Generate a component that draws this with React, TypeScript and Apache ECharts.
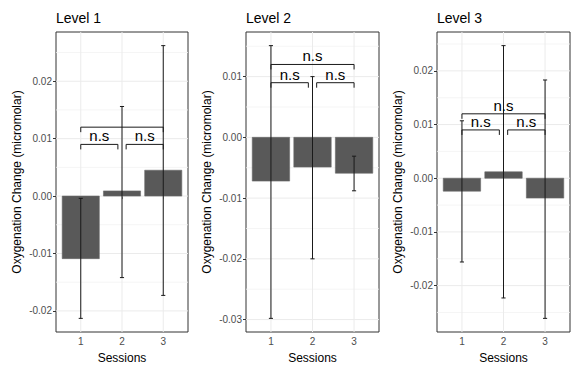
import React, { useEffect, useRef } from "react";
import * as echarts from "echarts";

const sessions = [1, 2, 3];
const panelTitles = ["Level 1", "Level 2", "Level 3"];

const level1Mean = [-0.0109, 0.0009, 0.0045];
const level1Lower = [-0.0213, -0.0142, -0.0173];
const level1Upper = [-0.0004, 0.0156, 0.0262];

const level2Mean = [-0.0072, -0.0049, -0.0059];
const level2Lower = [-0.0298, -0.0200, -0.0088];
const level2Upper = [0.0151, 0.0100, -0.0031];

const level3Mean = [-0.0024, 0.0012, -0.0037];
const level3Lower = [-0.0156, -0.0223, -0.0261];
const level3Upper = [0.0107, 0.0247, 0.0183];

const level1Ticks = [-0.02, -0.01, 0, 0.01, 0.02];
const level2Ticks = [-0.03, -0.02, -0.01, 0, 0.01];
const level3Ticks = [-0.02, -0.01, 0, 0.01, 0.02];

const bracketFrom = [1, 2.1, 1];
const bracketTo = [1.9, 3, 3];
const bracketY = [0.009, 0.009, 0.012];
const level1BracketLabels = ["n.s", "n.s", ""];
const level2BracketLabels = ["n.s", "n.s", "n.s"];
const level3BracketLabels = ["n.s", "n.s", "n.s"];

const FONT = "'Liberation Sans', Arial, sans-serif";

const panels = [
  { mean: level1Mean, lower: level1Lower, upper: level1Upper, ticks: level1Ticks, labels: level1BracketLabels },
  { mean: level2Mean, lower: level2Lower, upper: level2Upper, ticks: level2Ticks, labels: level2BracketLabels },
  { mean: level3Mean, lower: level3Lower, upper: level3Upper, ticks: level3Ticks, labels: level3BracketLabels },
];

const gridBoxes = [
  { left: 56, top: 32, width: 132, height: 300 },
  { left: 246, top: 32, width: 133, height: 300 },
  { left: 437, top: 32, width: 133, height: 300 },
];

function extent(p: { mean: number[]; lower: number[]; upper: number[] }) {
  const mn = Math.min(...p.lower, ...p.mean, 0);
  const mx = Math.max(...p.upper, ...p.mean, 0);
  const r = mx - mn;
  return [mn - 0.05 * r, mx + 0.05 * r];
}

export default function App() {
  const ref = useRef<HTMLDivElement>(null);
  useEffect(() => {
    if (!ref.current) return;
    const chart = echarts.init(ref.current, null, { renderer: "svg" });
    const grids: any[] = [];
    const xAxes: any[] = [];
    const yAxes: any[] = [];
    const titles: any[] = [];
    const series: any[] = [];

    panels.forEach((p, i) => {
      const [ymin, ymax] = extent(p);
      const box = gridBoxes[i];
      grids.push({
        ...box,
        show: true,
        backgroundColor: "#FFFFFF",
        borderColor: "#333333",
        borderWidth: 1,
        containLabel: false,
        outerBoundsMode: "none",
      });
      titles.push({
        text: panelTitles[i],
        left: box.left,
        top: 11,
        padding: 0,
        textStyle: { fontFamily: FONT, fontSize: 14, fontWeight: "normal", color: "#000000" },
      });
      xAxes.push({
        type: "value",
        gridIndex: i,
        min: 0.4,
        max: 3.6,
        axisLine: { show: false },
        axisTick: { show: true, customValues: sessions, length: 3, lineStyle: { color: "#333333" } },
        axisLabel: {
          show: true,
          customValues: sessions,
          fontFamily: FONT,
          fontSize: 10,
          color: "#4D4D4D",
          margin: 4,
        },
        splitLine: { show: false },
        name: "Sessions",
        nameLocation: "middle",
        nameGap: 20,
        nameTextStyle: { fontFamily: FONT, fontSize: 12, color: "#000000" },
      });
      yAxes.push({
        type: "value",
        gridIndex: i,
        min: ymin,
        max: ymax,
        axisLine: { show: false },
        axisTick: { show: true, customValues: p.ticks, length: 3, lineStyle: { color: "#333333" } },
        axisLabel: {
          show: true,
          customValues: p.ticks,
          formatter: (v: number) => v.toFixed(2),
          fontFamily: FONT,
          fontSize: 10,
          color: "#4D4D4D",
          margin: 4,
        },
        splitLine: { show: false },
        name: "Oxygenation Change (micromolar)",
        nameLocation: "middle",
        nameGap: 33,
        nameTextStyle: { fontFamily: FONT, fontSize: 12, color: "#000000" },
      });

      // grid lines (major at ticks, minor halfway)
      const step = p.ticks[1] - p.ticks[0];
      const hLines: number[][] = [];
      p.ticks.forEach((t) => hLines.push([1, t, 1]));
      const firstMinor = p.ticks[0] - step / 2;
      for (let k = 0; k < p.ticks.length + 1; k++) {
        const v = firstMinor + k * step;
        if (v > ymin && v < ymax) hLines.push([1, v, 0]);
      }
      series.push({
        type: "custom",
        xAxisIndex: i,
        yAxisIndex: i,
        z: 1,
        silent: true,
        data: hLines,
        renderItem: (params: any, api: any) => {
          const cs = params.coordSys;
          const y = api.coord([1, api.value(1)])[1];
          const major = api.value(2) === 1;
          return {
            type: "line",
            shape: { x1: cs.x, y1: y, x2: cs.x + cs.width, y2: y },
            style: { stroke: major ? "#EBEBEB" : "#F3F3F3", lineWidth: major ? 1 : 0.8 },
          };
        },
      });
      series.push({
        type: "custom",
        xAxisIndex: i,
        yAxisIndex: i,
        z: 1,
        silent: true,
        data: sessions.map((s) => [s, 0]),
        renderItem: (params: any, api: any) => {
          const cs = params.coordSys;
          const x = api.coord([api.value(0), 0])[0];
          return {
            type: "line",
            shape: { x1: x, y1: cs.y, x2: x, y2: cs.y + cs.height },
            style: { stroke: "#EBEBEB", lineWidth: 1 },
          };
        },
      });

      // bars
      series.push({
        type: "custom",
        xAxisIndex: i,
        yAxisIndex: i,
        z: 2,
        data: sessions.map((s, j) => [s, p.mean[j]]),
        renderItem: (params: any, api: any) => {
          const x = api.value(0);
          const v = api.value(1);
          const a = api.coord([x - 0.45, 0]);
          const b = api.coord([x + 0.45, v]);
          return {
            type: "rect",
            shape: {
              x: a[0],
              y: Math.min(a[1], b[1]),
              width: b[0] - a[0],
              height: Math.abs(b[1] - a[1]),
            },
            style: { fill: "#595959", stroke: "#6a6a6a", lineWidth: 0.6 },
          };
        },
      });

      // error bars
      series.push({
        type: "custom",
        xAxisIndex: i,
        yAxisIndex: i,
        z: 3,
        data: sessions.map((s, j) => [s, p.lower[j], p.upper[j]]),
        renderItem: (params: any, api: any) => {
          const x = api.value(0);
          const lo = api.coord([x, api.value(1)]);
          const hi = api.coord([x, api.value(2)]);
          const l = api.coord([x - 0.05, 0])[0];
          const r = api.coord([x + 0.05, 0])[0];
          const st = { stroke: "#1A1A1A", lineWidth: 1 };
          return {
            type: "group",
            children: [
              { type: "line", shape: { x1: lo[0], y1: lo[1], x2: hi[0], y2: hi[1] }, style: st },
              { type: "line", shape: { x1: l, y1: lo[1], x2: r, y2: lo[1] }, style: st },
              { type: "line", shape: { x1: l, y1: hi[1], x2: r, y2: hi[1] }, style: st },
            ],
          };
        },
      });

      // significance brackets
      const labels = p.labels;
      series.push({
        type: "custom",
        xAxisIndex: i,
        yAxisIndex: i,
        z: 4,
        data: bracketFrom.map((f, j) => [f, bracketY[j], bracketTo[j]]),
        renderItem: (params: any, api: any) => {
          const a = api.coord([api.value(0), api.value(1)]);
          const b = api.coord([api.value(2), api.value(1)]);
          const tip = 5;
          return {
            type: "group",
            children: [
              {
                type: "polyline",
                shape: {
                  points: [
                    [a[0], a[1] + tip],
                    [a[0], a[1]],
                    [b[0], b[1]],
                    [b[0], b[1] + tip],
                  ],
                },
                style: { stroke: "#1A1A1A", lineWidth: 1, fill: null },
              },
              {
                type: "text",
                x: (a[0] + b[0]) / 2,
                y: a[1] - 1,
                style: {
                  text: labels[params.dataIndex],
                  fontFamily: FONT,
                  fontSize: 15,
                  fill: "#000000",
                  align: "center",
                  verticalAlign: "bottom",
                },
              },
            ],
          };
        },
      });
    });

    chart.setOption({
      animation: false,
      backgroundColor: "#FFFFFF",
      title: titles,
      grid: grids,
      xAxis: xAxes,
      yAxis: yAxes,
      series,
    });
    return () => chart.dispose();
  }, []);
  return (
    <div
      ref={ref}
      style={{ position: "fixed", left: 0, top: 0, width: 585, height: 375 }}
    />
  );
}
